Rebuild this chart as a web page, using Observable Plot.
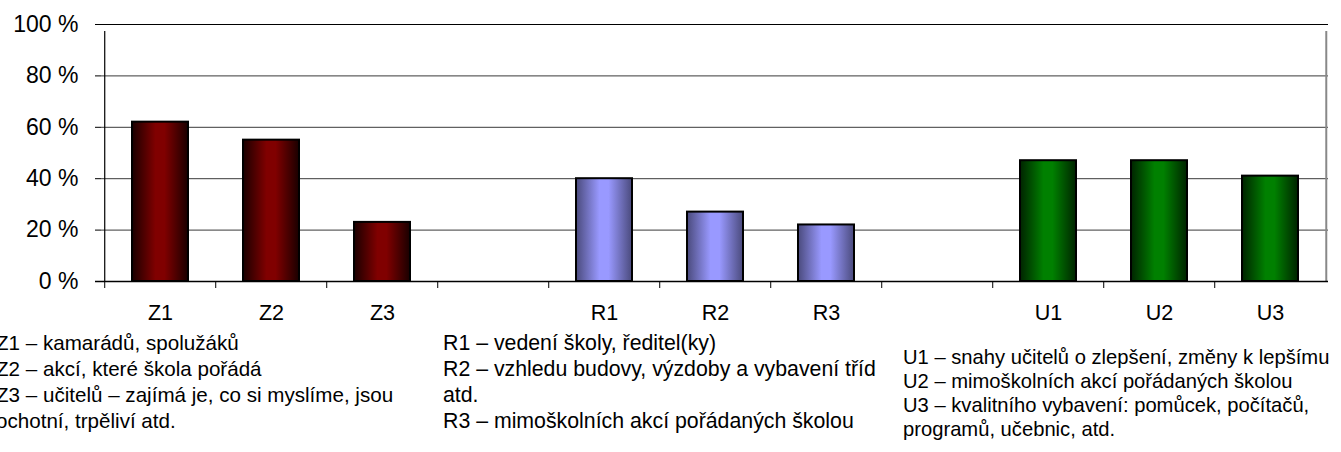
<!DOCTYPE html>
<html>
<head>
<meta charset="utf-8">
<script src="https://cdn.jsdelivr.net/npm/d3@7"></script>
<script src="https://cdn.jsdelivr.net/npm/@observablehq/plot@0.6"></script>
<style>
  html, body { margin: 0; padding: 0; background: #fff; }
  #wrap { position: relative; width: 1341px; height: 452px; overflow: hidden; }
  .leg { position: absolute; font-family: "Liberation Sans Narrow", "Arial Narrow", "Liberation Sans", sans-serif; color: #000; white-space: nowrap; }
</style>
</head>
<body>
<div id="wrap"></div>
<script>
// ---- data ----
const categories = ["Z1", "Z2", "Z3", "R1", "R2", "R3", "U1", "U2", "U3"];
const groups     = ["Z",  "Z",  "Z",  "R",  "R",  "R",  "U",  "U",  "U"];
const values     = [62, 55, 23, 40, 27, 22, 47, 47, 41];
const slots = ["Z1", "Z2", "Z3", "gap1", "R1", "R2", "R3", "gap2", "U1", "U2", "U3"];
const yTicks = [0, 20, 40, 60, 80, 100];
const legendZ = ["Z1 – kamarádů, spolužáků", "Z2 – akcí, které škola pořádá", "Z3 – učitelů – zajímá je, co si myslíme, jsou", "ochotní, trpěliví atd."];
const legendR = ["R1 – vedení školy, ředitel(ky)", "R2 – vzhledu budovy, výzdoby a vybavení tříd", "atd.", "R3 – mimoškolních akcí pořádaných školou"];
const legendU = ["U1 – snahy učitelů o zlepšení, změny k lepšímu", "U2 – mimoškolních akcí pořádaných školou", "U3 – kvalitního vybavení: pomůcek, počítačů,", "programů, učebnic, atd."];

const data = categories.map((c, i) => ({cat: c, group: groups[i], value: values[i]}));

const W = 1341, H = 320, ML = 101, MR = 13, MT = 24, MB = 39;
const step = (W - ML - MR) / slots.length;

const gradients = [
  {id: "gZ", edge: "#1a0000", mid: "#800000"},
  {id: "gR", edge: "#4a4a7c", mid: "#9999ff"},
  {id: "gU", edge: "#002400", mid: "#008000"}
];
const defs = () => {
  const ns = "http://www.w3.org/2000/svg";
  const d = document.createElementNS(ns, "defs");
  for (const g of gradients) {
    const lg = document.createElementNS(ns, "linearGradient");
    lg.setAttribute("id", g.id);
    lg.setAttribute("x1", "0"); lg.setAttribute("x2", "1");
    lg.setAttribute("y1", "0"); lg.setAttribute("y2", "0");
    [[0, g.edge], [0.42, g.mid], [0.58, g.mid], [1, g.edge]].forEach(([o, c]) => {
      const s = document.createElementNS(ns, "stop");
      s.setAttribute("offset", o);
      s.setAttribute("stop-color", c);
      lg.appendChild(s);
    });
    d.appendChild(lg);
  }
  return d;
};

const fillFor = {Z: "url(#gZ)", R: "url(#gR)", U: "url(#gU)"};

const bars = ["Z", "R", "U"].map(g => Plot.barY(data.filter(d => d.group === g), {
  x: "cat", y: "value", fill: fillFor[g], stroke: "#000", strokeWidth: 2
}));

const plot = Plot.plot({
  width: W, height: H,
  marginLeft: ML, marginRight: MR, marginTop: MT, marginBottom: MB,
  style: {fontFamily: "'Liberation Sans', Arial, sans-serif", background: "#fff", overflow: "visible"},
  x: {domain: slots, paddingInner: 0.5, paddingOuter: 0.25, label: null},
  y: {domain: [0, 100], label: null},
  marks: [
    defs,
    Plot.ruleY(yTicks.slice(1, -1), {stroke: "#3a3a3a", strokeWidth: 1}),
    Plot.ruleY([100], {stroke: "#000", strokeWidth: 1}),
    // right border
    Plot.ruleX([slots[slots.length - 1]], {y1: 0, y2: 100, dx: step / 2, stroke: "#888", strokeWidth: 2, insetBottom: -7}),
    // category boundary ticks
    Plot.ruleX(slots, {y1: 0, y2: 0, dx: -step / 2, insetBottom: -7, stroke: "#000"}),
    ...bars,
    Plot.axisY({ticks: yTicks, tickSize: 6, tickPadding: 17, tickFormat: d => d + " %", fontSize: 23, stroke: "#000"}),
    Plot.ruleX([slots[0]], {y1: 0, y2: 100, dx: -step / 2, stroke: "#000", strokeWidth: 1.2, insetBottom: -7}),
    Plot.ruleY([0], {stroke: "#000", strokeWidth: 1.5, insetLeft: -6}),
    Plot.axisX({ticks: categories, tickSize: 0, tickPadding: 23, fontSize: 21.5})
  ]
});

const wrap = document.getElementById("wrap");
plot.style.position = "absolute";
plot.style.left = "0px";
plot.style.top = "0px";
wrap.appendChild(plot);

function addLegend(lines, left, top, size, lh) {
  const div = document.createElement("div");
  div.className = "leg";
  div.style.left = left + "px";
  div.style.top = top + "px";
  div.style.fontSize = size + "px";
  div.style.lineHeight = lh + "px";
  div.innerHTML = lines.map(l => `<div>${l}</div>`).join("");
  wrap.appendChild(div);
}
addLegend(legendZ, -4, 330, 20.6, 26);
addLegend(legendR, 443, 330, 21.3, 26);
addLegend(legendU, 903, 345, 20.2, 24);
</script>
</body>
</html>
